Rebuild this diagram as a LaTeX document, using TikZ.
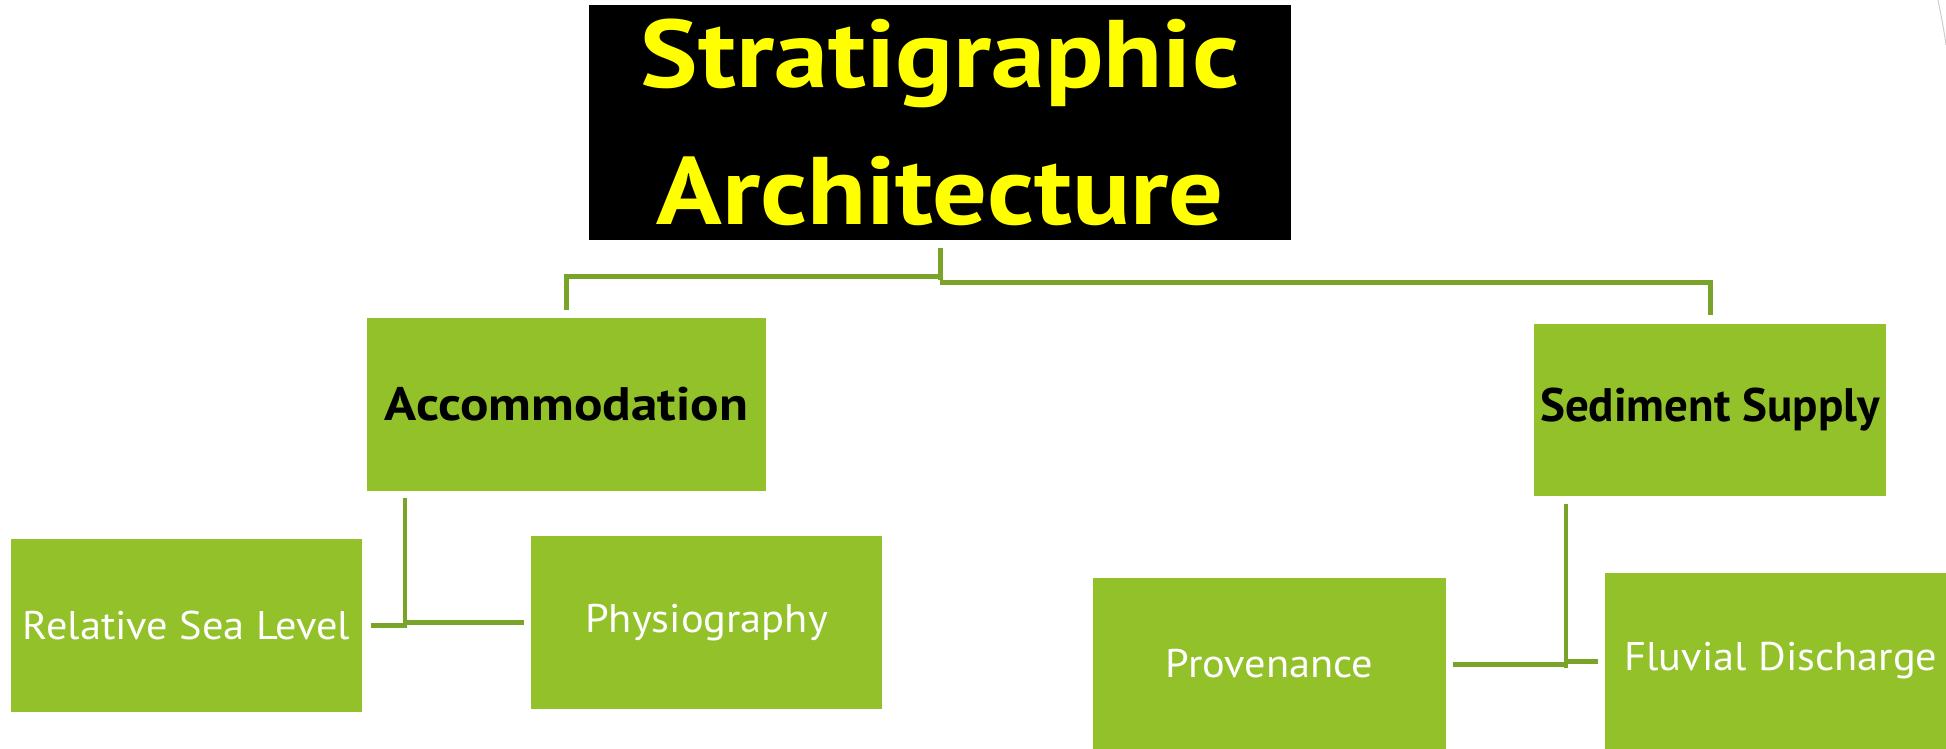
\documentclass[tikz,border=0pt]{standalone}
\usepackage{fontspec}
\setmainfont{PT Sans}
\usetikzlibrary{calc,positioning}
\usepackage{xcolor}
\definecolor{mgreen}{HTML}{92C12A}
\definecolor{mline}{HTML}{7AA32A}
\definecolor{myellow}{HTML}{FFFF00}
\newcommand{\wide}[1]{\addfontfeature{FakeStretch=#1}}
\tikzstyle{title}=[rectangle, fill=black, text=myellow, font=\fontsize{96}{137}\selectfont\bfseries\wide{1.13}, align=center, minimum width=702pt, minimum height=235pt, inner sep=0pt]
\tikzstyle{factor}=[rectangle, fill=mgreen, text=black, font=\fontsize{46}{50}\selectfont\bfseries, minimum width=352pt, minimum height=172pt, inner sep=0pt]
\tikzstyle{control}=[rectangle, fill=mgreen, text=white, font=\fontsize{40}{44}\selectfont\wide{1.06}, minimum width=351pt, minimum height=173pt, inner sep=0pt]
\tikzstyle{link}=[draw=mline, line width=5pt]
\tikzstyle{link1}=[draw=mline, line width=3.5pt]

\begin{document}
\begin{tikzpicture}[x=1pt, y=-1pt]

    \useasboundingbox (0,0) rectangle (1946,749);

    \node (strat) [title] at (940,122.5) {Stratigraphic\\Architecture};

    \node (accom) [factor, minimum width=399pt, minimum height=173pt, font=\fontsize{47}{50}\selectfont\bfseries\wide{1.13}] at (566.5,404.5) {Accommodation};
    \node (sed) [factor, font=\fontsize{47}{50}\selectfont\bfseries\wide{1.0}] at (1710,409.5) {Sediment Supply};

    \node (rsl) [control] at (186.5,625.5) {Relative Sea Level};
    \node (phys) [control] at (706.5,622.5) {Physiography};
    \node (prov) [control, minimum width=353pt, minimum height=171pt] at (1269.5,663.5) {Provenance};
    \node (fluv) [control, minimum width=352pt, minimum height=176pt] at (1781,661) {Fluvial Discharge};

    % top level
    \draw[link] ([yshift=-8pt]strat.south) -- ($(strat.south)+(0,40)$);
    \draw[link] ($(strat.south)+(0,36)$) -| ([yshift=8pt]accom.north);
    \draw[link] ($(strat.south)+(0,42)$) -| ([yshift=8pt]sed.north);

    % accommodation
    \coordinate (ajoin) at (405,624);
    \draw[link1] ($(accom.south -| ajoin)+(0,7)$) -- ($(ajoin)+(0,4)$);
    \draw[link] (ajoin |- phys.west) -- ([xshift=-7pt]phys.west);
    \draw[link] ([xshift=9pt]rsl.east) -- (rsl.east -| ajoin);

    % sediment supply
    \coordinate (sjoin) at (1566,664);
    \draw[link1] ($(sed.south -| sjoin)+(0,8)$) -- ($(sjoin)+(0,4)$);
    \draw[link] ([xshift=7pt]prov.east |- sjoin) -- (sjoin);
    \draw[link] (sjoin |- fluv.west) -- ([xshift=-7pt]fluv.west);

    \draw[black!20, line width=1pt] (1938,0) .. controls (1941,15) and (1944,30) .. (1946,45);

\end{tikzpicture}
\end{document}
